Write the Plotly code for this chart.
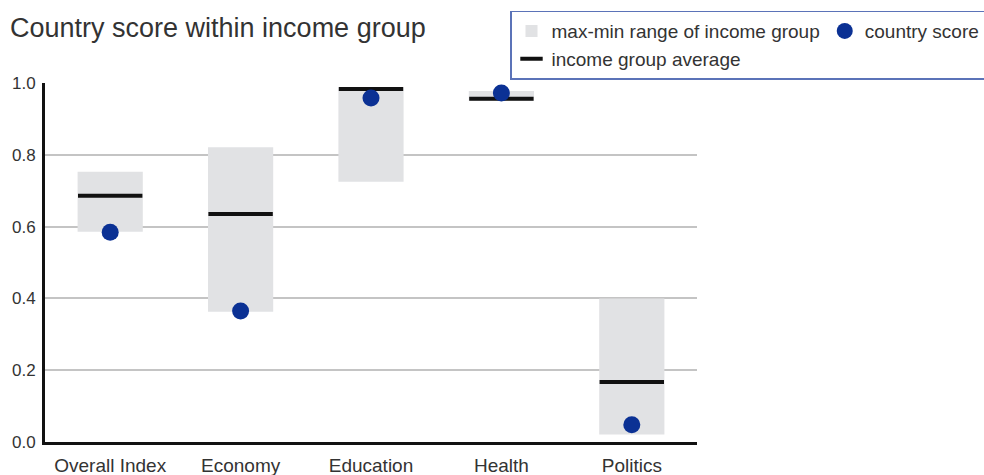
import plotly.graph_objects as go

categories = ["Overall Index", "Economy", "Education", "Health", "Politics"]
range_min = [0.586, 0.363, 0.725, 0.950, 0.021]
range_max = [0.753, 0.821, 0.988, 0.978, 0.400]
group_avg = [0.686, 0.635, 0.983, 0.956, 0.167]
country_score = [0.584, 0.365, 0.958, 0.972, 0.048]
y_ticks = [0.0, 0.2, 0.4, 0.6, 0.8, 1.0]

FONT = "Liberation Sans, Arial, sans-serif"
TXT = "#333333"

fig = go.Figure()
fig.add_trace(go.Bar(
    x=categories,
    y=[hi - lo for hi, lo in zip(range_max, range_min)],
    base=range_min,
    width=0.5,
    marker=dict(color="#e1e2e4", line=dict(width=0)),
    name="max-min range of income group",
    legendrank=1,
))
fig.add_trace(go.Scatter(
    x=categories,
    y=group_avg,
    mode="markers",
    marker=dict(symbol="line-ew", size=46, line=dict(width=4, color="#111111"), color="#111111"),
    name="income group average",
    legendrank=3,
))
fig.add_trace(go.Scatter(
    x=categories,
    y=country_score,
    mode="markers",
    marker=dict(symbol="circle", size=17, color="#0b3194", line=dict(width=0)),
    name="country score",
    legendrank=2,
))

fig.update_layout(
    width=984, height=475,
    margin=dict(l=45, r=287, t=83, b=33, autoexpand=False),
    paper_bgcolor="white", plot_bgcolor="white",
    font=dict(family=FONT, color=TXT, size=17),
    title=dict(text="Country score within income group", x=10/984, xanchor="left",
               xref="container", y=1 - 28/475, yanchor="middle", yref="container",
               font=dict(size=27, color=TXT, family=FONT)),
    showlegend=True,
    legend=dict(orientation="h", x=(510-45)/652, xanchor="left", y=(441.7-11)/358.4, yanchor="top",
                bordercolor="#5b73b8", borderwidth=1.5, bgcolor="white",
                font=dict(size=19, color=TXT, family=FONT), traceorder="normal",
                itemwidth=30, tracegroupgap=0),
    bargap=0.5,
)
fig.update_xaxes(
    range=[-0.5, 4.5], showgrid=False, showline=True, linecolor="#111111", linewidth=3,
    ticks="", tickfont=dict(size=19, color=TXT), ticklabelstandoff=4, fixedrange=True,
)
fig.update_yaxes(
    range=[0, 1.0], tickvals=y_ticks, ticktext=[f"{v:.1f}" for v in y_ticks],
    showgrid=True, gridcolor="#c4c4c4", gridwidth=1.5, zeroline=False,
    showline=True, linecolor="#111111", linewidth=3, ticks="",
    tickfont=dict(size=17, color=TXT), ticklabelstandoff=3, fixedrange=True,
)

fig.write_html("out.html", config={"displayModeBar": False},
               post_script="document.body.style.margin='0';document.body.style.overflow='hidden';")
